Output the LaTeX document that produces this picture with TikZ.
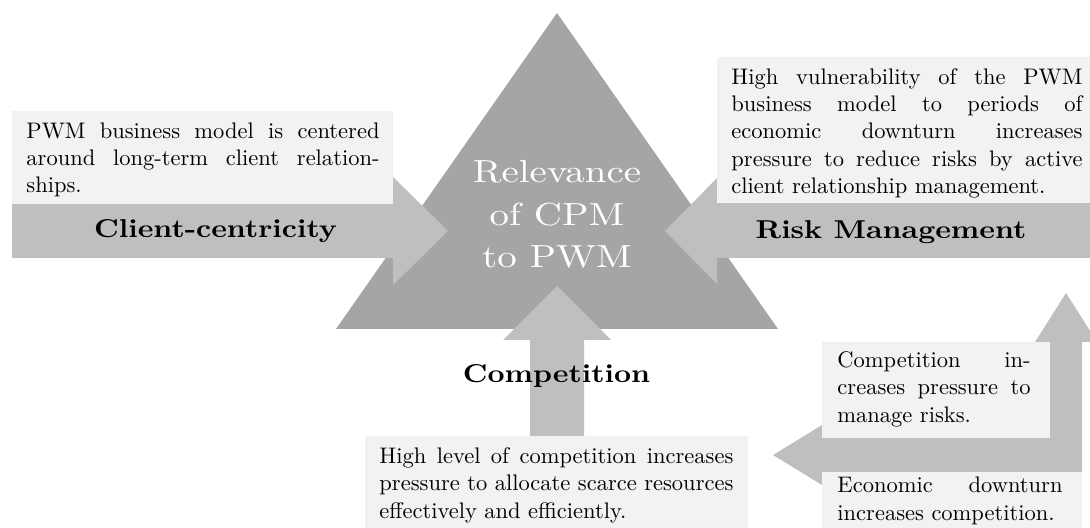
\documentclass[tikz,border=0pt]{standalone}
\usepackage{graphicx}
\usepackage{fontspec}
\newfontfamily\tenrm{lmroman10-regular.otf}[BoldFont=lmroman10-bold.otf]
\definecolor{tri}{HTML}{A5A5A5}
\definecolor{arr}{HTML}{BFBFBF}
\definecolor{boxc}{HTML}{F2F2F2}
\newcommand{\lbltext}[1]{\scalebox{1}[0.87]{\fontsize{13.2}{16}\tenrm\bfseries #1}}
\tikzset{
  body/.style={anchor=base west, inner sep=0pt, align=justify, font=\fontsize{10}{12}\selectfont},
  lbl/.style={anchor=base, inner sep=0pt},
  arrowshape/.style={fill=arr},
  boxshape/.style={fill=boxc},
}
\begin{document}
\begin{tikzpicture}[x=0.4444pt,y=-0.4444pt]
\useasboundingbox (0,0) rectangle (1090,528);
\clip (0,0) rectangle (1090,528);
% central triangle
\fill[tri] (557,13) -- (778,329) -- (336,329) -- cycle;
% left arrow (Client-centricity)
\fill[arrowshape] (12,204) -- (393,204) -- (393,177) -- (448,231) -- (393,285) -- (393,258) -- (12,258) -- cycle;
% right arrow (Risk Management)
\fill[arrowshape] (1095,203) -- (717,203) -- (717,178) -- (665,231) -- (717,284) -- (717,258) -- (1095,258) -- cycle;
% bottom arrow (Competition)
\fill[arrowshape] (530,436) -- (530,340) -- (503,340) -- (557,286) -- (611,340) -- (584,340) -- (584,436) -- cycle;
% bent double arrow
\fill[arrowshape] (773,455) -- (822,425) -- (822,438) -- (1050,438) -- (1050,342) -- (1035,342) -- (1066,293) -- (1097,342) -- (1082,342) -- (1082,472) -- (822,472) -- (822,485) -- cycle;
% text boxes
\fill[boxshape] (12,111) rectangle (393,204);
\fill[boxshape] (717,57) rectangle (1095,203);
\fill[boxshape] (365,436) rectangle (748,530);
\fill[boxshape] (822,342) rectangle (1050,438);
\fill[boxshape] (822,472) rectangle (1082,530);
% texts
\node[body, text width=156.9pt] (tleft) at (26,139) {PWM business model is centered\linebreak around long-term client relation-\linebreak ships.};
\node[body, text width=156.0pt] (tright) at (731,85) {High vulnerability of the PWM\linebreak business model to periods of\linebreak economic downturn increases\linebreak pressure to reduce risks by active\linebreak client relationship management.};
\node[body, text width=157.3pt] (tbottom) at (379,464) {High level of competition increases\linebreak pressure to allocate scarce resources\linebreak effectively and efficiently.};
\node[body, text width=85.8pt] (tcomp) at (837,368) {Competition in-\linebreak creases pressure to\linebreak manage risks.};
\node[body, text width=100pt] (teco) at (837,493) {Economic downturn\linebreak increases competition.};
% labels
\node[lbl] (lclient) at (215.5,238) {\lbltext{Client-centricity}};
\node[lbl] (lrisk) at (891,239) {\lbltext{Risk Management}};
\node[lbl] (lcomp) at (556.5,383) {\lbltext{Competition}};
% centre text
\node[lbl, text=white] (center) at (557,183) {\scalebox{1}[0.82]{\fontsize{17.3}{22.8}\tenrm\begin{tabular}[t]{@{}c@{}}Relevance\\of CPM\\to PWM\end{tabular}}};
\end{tikzpicture}
\end{document}
